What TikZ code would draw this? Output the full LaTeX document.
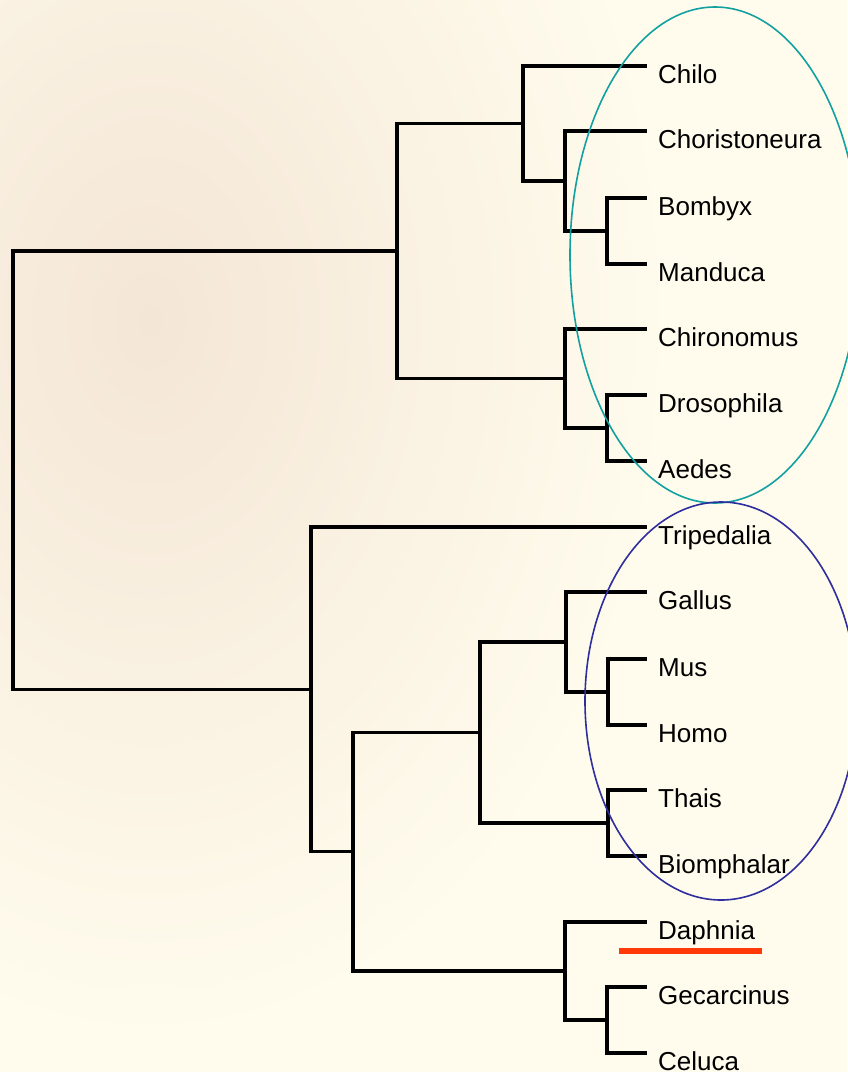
\documentclass[tikz,border=0pt]{standalone}
\usepackage{fontspec}
\setmainfont{Liberation Sans}
\definecolor{bgcream}{HTML}{FFFCED}
\definecolor{bgbeige}{HTML}{F4E6D6}
\definecolor{tealc}{HTML}{12A0A0}
\definecolor{bluec}{HTML}{2E2E9E}
\definecolor{redc}{HTML}{FF3A08}
\tikzset{
  branch/.style={line width=3.4pt, line join=miter, black},
  lab/.style={anchor=base west, inner sep=0pt, font=\fontsize{26}{30}\selectfont, text=black},
  ring/.style={line width=1.6pt},
}
\begin{document}
\begin{tikzpicture}[x=1pt,y=-1pt]
\useasboundingbox (0,0) rectangle (847,1072);
\fill[bgcream] (0,0) rectangle (847,1072);
\begin{scope}
\clip (0,0) rectangle (847,1072);
\shade[inner color=bgbeige, outer color=bgcream] (150,320) ellipse [x radius=520, y radius=720];
\end{scope}
% leaf tips
\foreach \n/\y in {Chilo/66, Choristoneura/131, Bombyx/198, Manduca/264, Chironomus/329, Drosophila/395, Aedes/461, Tripedalia/527, Gallus/592, Mus/659, Homo/725, Thais/790, Biomphalar/856, Daphnia/922, Gecarcinus/987, Celuca/1053}{
  \coordinate (t\n) at (647,\y);
  \node[lab] (l\n) at ([xshift=11pt,yshift=-17pt]t\n) {\n};
}
% internal nodes
\coordinate (bm) at (607,231);
\coordinate (cbm) at (565,181);
\coordinate (lep) at (523,123.5);
\coordinate (dae) at (607,428);
\coordinate (dip) at (565,378.5);
\coordinate (ins) at (397,251);
\coordinate (mh) at (608,692);
\coordinate (vert) at (566,642);
\coordinate (tb) at (608,823);
\coordinate (bil) at (480,732.5);
\coordinate (gc) at (607,1020);
\coordinate (crus) at (565,971);
\coordinate (prot) at (353,851.75);
\coordinate (bot) at (311,689.5);
\coordinate (root) at (13,470);
% branches
\draw[branch] (root) |- (ins); \draw[branch] (root) |- (bot);
\draw[branch] (ins) |- (lep); \draw[branch] (ins) |- (dip);
\draw[branch] (lep) |- (tChilo); \draw[branch] (lep) |- (cbm);
\draw[branch] (cbm) |- (tChoristoneura); \draw[branch] (cbm) |- (bm);
\draw[branch] (bm) |- (tBombyx); \draw[branch] (bm) |- (tManduca);
\draw[branch] (dip) |- (tChironomus); \draw[branch] (dip) |- (dae);
\draw[branch] (dae) |- (tDrosophila); \draw[branch] (dae) |- (tAedes);
\draw[branch] (bot) |- (tTripedalia); \draw[branch] (bot) |- (prot);
\draw[branch] (prot) |- (bil); \draw[branch] (prot) |- (crus);
\draw[branch] (bil) |- (vert); \draw[branch] (bil) |- (tb);
\draw[branch] (vert) |- (tGallus); \draw[branch] (vert) |- (mh);
\draw[branch] (mh) |- (tMus); \draw[branch] (mh) |- (tHomo);
\draw[branch] (tb) |- (tThais); \draw[branch] (tb) |- (tBiomphalar);
\draw[branch] (crus) |- (tDaphnia); \draw[branch] (crus) |- (gc);
\draw[branch] (gc) |- (tGecarcinus); \draw[branch] (gc) |- (tCeluca);
% ellipses
\draw[ring, tealc] (715,255) ellipse [x radius=145, y radius=248];
\draw[ring, bluec] (721,701) ellipse [x radius=136, y radius=199];
% red underline
\coordinate (ua) at (619,951);
\coordinate (ub) at (762,951);
\draw[redc, line width=5.5pt] (ua) -- (ub);
\end{tikzpicture}
\end{document}
